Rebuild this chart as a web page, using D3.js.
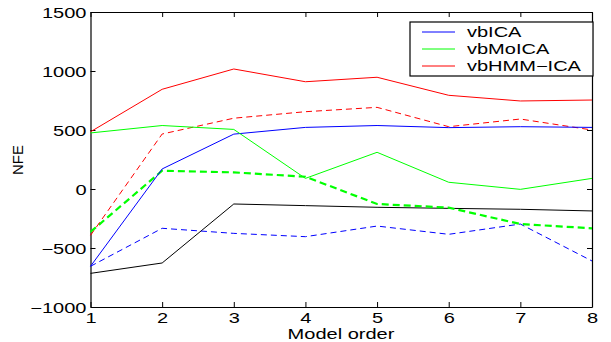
<!DOCTYPE html>
<html><head><meta charset="utf-8">
<script src="https://cdn.jsdelivr.net/npm/d3@7"></script>
<style>body{margin:0;background:#fff}svg{display:block}text{font-family:"Liberation Sans",Arial,sans-serif}</style>
</head><body>
<svg id="c" width="611" height="342"></svg>
<script>
const modelOrder = [1,2,3,4,5,6,7,8];
const xTicks = [1,2,3,4,5,6,7,8];
const yTicks = [-1000,-500,0,500,1000,1500];
const vbICA = [-655,170,465,522,538,520,528,522];
const vbICA_dashed = [-655,-333,-376,-404,-314,-384,-297,-610];
const vbMoICA = [475,538,505,90,311,57,-3,90];
const vbMoICA_dashed = [-364,155,141,104,-127,-158,-297,-333];
const vbHMMICA = [485,845,1017,909,947,794,746,754];
const vbHMMICA_dashed = [-393,466,600,655,692,528,593,500];
const baseline = [-715,-627,-127,-141,-155,-164,-172,-186];
const legendNames = ["vbICA","vbMoICA","vbHMM\u2212ICA"];
const legendColors = ["#0000ff","#00ff00","#ff0000"];

const L=90.5,R=592,T=12,B=307, SX=1.38, FS=14.5;
const svg=d3.select("#c");
const x=d3.scaleLinear().domain([1,8]).range([L,R]);
const y=d3.scaleLinear().domain([-1000,1500]).range([B,T]);

function stretch(sel){
  sel.each(function(){
    const t=d3.select(this);
    const tx=+t.attr("x")||0;
    t.attr("x",tx/SX).attr("transform",`scale(${SX},1)`);
  });
}
const ax=svg.append("g").attr("transform",`translate(0,${B})`).call(d3.axisBottom(x).tickValues(xTicks).tickFormat(d3.format("d")).tickSizeInner(-5).tickSizeOuter(0).tickPadding(6));
const ay=svg.append("g").attr("transform",`translate(${L},0)`).call(d3.axisLeft(y).tickValues(yTicks).tickFormat(d3.format("d")).tickSizeInner(-5).tickSizeOuter(0).tickPadding(4));
const at=svg.append("g").attr("transform",`translate(0,${T})`).call(d3.axisTop(x).tickValues(xTicks).tickFormat("").tickSizeInner(-5).tickSizeOuter(0));
const ar=svg.append("g").attr("transform",`translate(${R},0)`).call(d3.axisRight(y).tickValues(yTicks).tickFormat("").tickSizeInner(-5).tickSizeOuter(0));
[ax,ay,at,ar].forEach(g=>{g.select(".domain").attr("stroke","#000").attr("stroke-width",1.2);g.selectAll(".tick line").attr("stroke","#000");g.selectAll("text").attr("font-size",FS).attr("font-family","Liberation Sans, Arial, sans-serif").attr("fill","#000");});
ax.selectAll(".tick text").attr("dy","0").attr("y",16).call(stretch);
ay.selectAll(".tick text").attr("dy","0.36em").call(stretch);

const line=d3.line().x((d,i)=>x(modelOrder[i])).y(d=>y(d));
const series=[
 {v:baseline,c:"#000",w:1,d:null},
 {v:vbICA_dashed,c:"#0000ff",w:1,d:"6,4"},
 {v:vbMoICA_dashed,c:"#00ff00",w:2.2,d:"7,4"},
 {v:vbHMMICA_dashed,c:"#ff0000",w:1,d:"6,4"},
 {v:vbICA,c:"#0000ff",w:1,d:null},
 {v:vbMoICA,c:"#00ff00",w:1,d:null},
 {v:vbHMMICA,c:"#ff0000",w:1,d:null}
];
svg.append("g").selectAll("path").data(series).join("path")
 .attr("d",s=>line(s.v)).attr("fill","none").attr("stroke",s=>s.c).attr("stroke-width",s=>s.w)
 .attr("stroke-dasharray",s=>s.d);

svg.append("text").attr("x",341/SX).attr("y",339.5).attr("transform",`scale(${SX},1)`).attr("text-anchor","middle").attr("font-size",FS).text("Model order");
svg.append("text").attr("transform","translate(23,160) rotate(-90)").attr("text-anchor","middle").attr("font-size",15).text("NFE");

const lg=svg.append("g");
lg.append("rect").attr("x",410).attr("y",22).attr("width",183).attr("height",54).attr("fill","#fff").attr("stroke","#000").attr("stroke-width",1.2);
legendNames.forEach((n,i)=>{
  const yy=32+i*17;
  lg.append("line").attr("x1",422).attr("x2",455).attr("y1",yy).attr("y2",yy).attr("stroke",legendColors[i]).attr("stroke-width",1);
  lg.append("text").attr("x",467/SX).attr("y",yy).attr("dy","0.36em").attr("transform",`scale(${SX},1)`).attr("font-size",FS).text(n);
});
</script>
</body></html>
